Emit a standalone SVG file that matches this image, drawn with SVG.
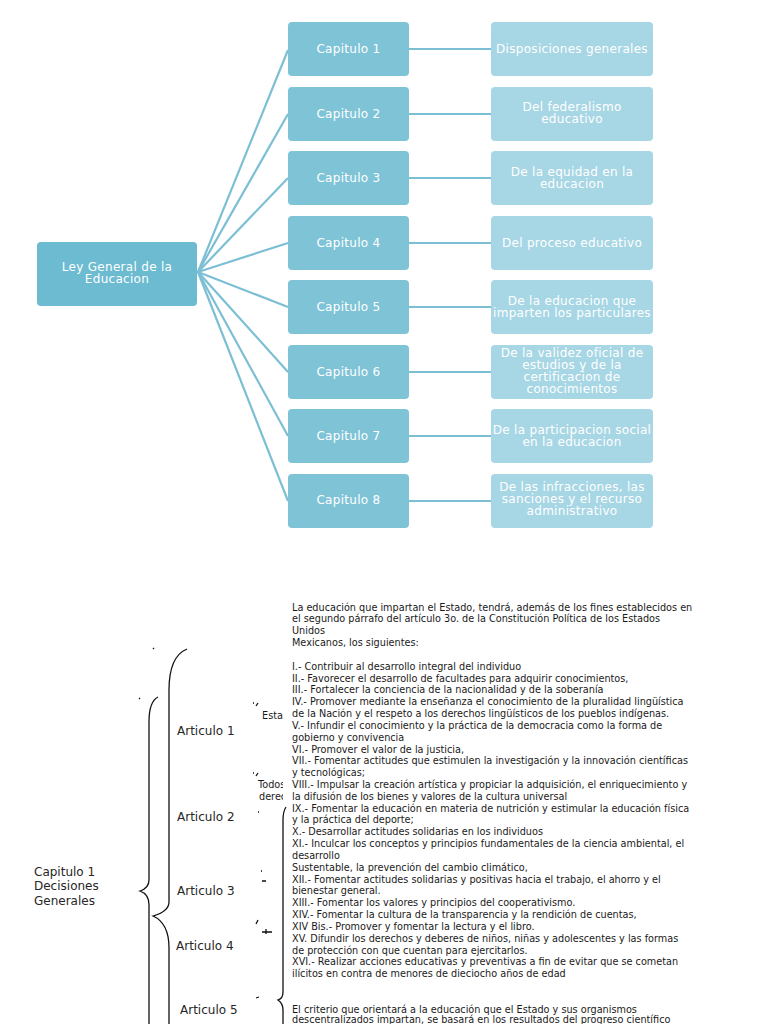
<svg xmlns="http://www.w3.org/2000/svg" width="768" height="1024" viewBox="0 0 768 1024">
<style>
.root{fill:#6cbbd1}
.cap{fill:#7fc3d7}
.desc{fill:#a7d6e5}
.nt{font-family:"DejaVu Sans",sans-serif;font-size:12px;fill:#ffffff;text-anchor:middle;letter-spacing:0.3px}
.conn{stroke:#7cbfd4;stroke-width:2.2;fill:none}
.body{font-family:"DejaVu Sans",sans-serif;font-size:9.7px;fill:#1a1a1a}
.lab{font-family:"DejaVu Sans",sans-serif;font-size:12px;fill:#262626}
.sm{font-family:"DejaVu Sans",sans-serif;font-size:9.7px;fill:#1a1a1a;text-anchor:end}
.br{stroke:#111;stroke-width:1.3;fill:none}
</style>
<defs>
<clipPath id="clipL"><rect x="0" y="600" width="283" height="424"/></clipPath>
</defs>
<rect width="768" height="1024" fill="#ffffff"/>
<g id="connectors">
<line class="conn" x1="198" y1="272" x2="288" y2="50"/>
<line class="conn" x1="198" y1="272" x2="288" y2="114"/>
<line class="conn" x1="198" y1="272" x2="288" y2="178"/>
<line class="conn" x1="198" y1="272" x2="288" y2="243"/>
<line class="conn" x1="198" y1="272" x2="288" y2="307"/>
<line class="conn" x1="198" y1="272" x2="288" y2="372"/>
<line class="conn" x1="198" y1="272" x2="288" y2="436"/>
<line class="conn" x1="198" y1="272" x2="288" y2="501"/>
<line class="conn" x1="409" y1="49" x2="491" y2="49"/>
<line class="conn" x1="409" y1="114" x2="491" y2="114"/>
<line class="conn" x1="409" y1="178" x2="491" y2="178"/>
<line class="conn" x1="409" y1="243" x2="491" y2="243"/>
<line class="conn" x1="409" y1="307" x2="491" y2="307"/>
<line class="conn" x1="409" y1="372" x2="491" y2="372"/>
<line class="conn" x1="409" y1="436" x2="491" y2="436"/>
<line class="conn" x1="409" y1="501" x2="491" y2="501"/>
</g>
<g id="root">
<rect class="root" x="37" y="242" width="160" height="64" rx="4"/>
<text class="nt" x="117" y="271">Ley General de la</text>
<text class="nt" x="117" y="283">Educacion</text>
</g>
<g id="cap1"><rect class="cap" x="288" y="22" width="121" height="54" rx="4"/><text class="nt" x="348.5" y="53">Capitulo 1</text></g>
<g id="cap2"><rect class="cap" x="288" y="87" width="121" height="54" rx="4"/><text class="nt" x="348.5" y="118">Capitulo 2</text></g>
<g id="cap3"><rect class="cap" x="288" y="151" width="121" height="54" rx="4"/><text class="nt" x="348.5" y="182">Capitulo 3</text></g>
<g id="cap4"><rect class="cap" x="288" y="216" width="121" height="54" rx="4"/><text class="nt" x="348.5" y="247">Capitulo 4</text></g>
<g id="cap5"><rect class="cap" x="288" y="280" width="121" height="54" rx="4"/><text class="nt" x="348.5" y="311">Capitulo 5</text></g>
<g id="cap6"><rect class="cap" x="288" y="345" width="121" height="54" rx="4"/><text class="nt" x="348.5" y="376">Capitulo 6</text></g>
<g id="cap7"><rect class="cap" x="288" y="409" width="121" height="54" rx="4"/><text class="nt" x="348.5" y="440">Capitulo 7</text></g>
<g id="cap8"><rect class="cap" x="288" y="474" width="121" height="54" rx="4"/><text class="nt" x="348.5" y="504">Capitulo 8</text></g>
<g id="desc1"><rect class="desc" x="491" y="22" width="162" height="54" rx="4"/><text class="nt" x="572" y="53">Disposiciones generales</text></g>
<g id="desc2"><rect class="desc" x="491" y="87" width="162" height="54" rx="4"/><text class="nt" x="572" y="111">Del federalismo</text><text class="nt" x="572" y="123">educativo</text></g>
<g id="desc3"><rect class="desc" x="491" y="151" width="162" height="54" rx="4"/><text class="nt" x="572" y="176">De la equidad en la</text><text class="nt" x="572" y="188">educacion</text></g>
<g id="desc4"><rect class="desc" x="491" y="216" width="162" height="54" rx="4"/><text class="nt" x="572" y="247">Del proceso educativo</text></g>
<g id="desc5"><rect class="desc" x="491" y="280" width="162" height="54" rx="4"/><text class="nt" x="572" y="305">De la educacion que</text><text class="nt" x="572" y="317">imparten los particulares</text></g>
<g id="desc6"><rect class="desc" x="491" y="345" width="162" height="54" rx="4"/><text class="nt" x="572" y="357">De la validez oficial de</text><text class="nt" x="572" y="369">estudios y de la</text><text class="nt" x="572" y="381">certificacion de</text><text class="nt" x="572" y="393">conocimientos</text></g>
<g id="desc7"><rect class="desc" x="491" y="409" width="162" height="54" rx="4"/><text class="nt" x="572" y="434">De la participacion social</text><text class="nt" x="572" y="446">en la educacion</text></g>
<g id="desc8"><rect class="desc" x="491" y="474" width="162" height="54" rx="4"/><text class="nt" x="572" y="491">De las infracciones, las</text><text class="nt" x="572" y="503">sanciones y el recurso</text><text class="nt" x="572" y="515">administrativo</text></g>

<g id="braces">
<path class="br" d="M158,697 C152,700 149,708 149,722 L149,880 C149,886 146,889 140,891 C146,893 149,897 149,905 L149,1024"/>
<path class="br" d="M187,649 C175,654 169,668 169,690 L169,902 C169,910 160,914 153,916 C162,920 169,930 169,948 L169,1024"/>
<path class="br" d="M286,807 C284,810 283,814 283,820 L283,992 C283,996 281,999 278,1000 C281,1002 283,1005 283,1010 L283,1024"/>
<path class="br" d="M153,648 l1,1 M139,698 l1,1 M253,703 l1,0 M256,706 l2,-3 M253,773 l1,0 M256,776 l2,-3 M258,812 l1,0 M261,871 l1,0 M262,881 l4,0 M256,924 l2,-4 M262,932 l10,0 M266,929 l0,5 M256,998 l3,-1"/>
</g>

<g id="labels">
<text class="lab" x="177" y="735">Articulo 1</text>
<text class="lab" x="177" y="821">Articulo 2</text>
<text class="lab" x="177" y="895">Articulo 3</text>
<text class="lab" x="176" y="950">Articulo 4</text>
<text class="lab" x="180" y="1014">Articulo 5</text>
<text class="lab" x="34" y="876">Capitulo 1</text>
<text class="lab" x="34" y="890">Decisiones</text>
<text class="lab" x="34" y="905">Generales</text>
<g clip-path="url(#clipL)">
<text class="sm" x="283" y="719">Esta</text>
<text class="body" x="258" y="788">Todos</text>
<text class="body" x="259" y="800">derec</text>
</g>
</g>

<g id="article-text">
<text class="body">
<tspan x="292" y="610.5">La educación que impartan el Estado, tendrá, además de los fines establecidos en</tspan>
<tspan x="292" y="622.3">el segundo párrafo del artículo 3o. de la Constitución Política de los Estados</tspan>
<tspan x="292" y="634.2">Unidos</tspan>
<tspan x="292" y="646.0">Mexicanos, los siguientes:</tspan>
<tspan x="292" y="669.7">I.- Contribuir al desarrollo integral del individuo</tspan>
<tspan x="292" y="681.5">II.- Favorecer el desarrollo de facultades para adquirir conocimientos,</tspan>
<tspan x="292" y="693.3">III.- Fortalecer la conciencia de la nacionalidad y de la soberanía</tspan>
<tspan x="292" y="705.1">IV.- Promover mediante la enseñanza el conocimiento de la pluralidad lingüística</tspan>
<tspan x="292" y="717.0">de la Nación y el respeto a los derechos lingüísticos de los pueblos indígenas.</tspan>
<tspan x="292" y="728.8">V.- Infundir el conocimiento y la práctica de la democracia como la forma de</tspan>
<tspan x="292" y="740.6">gobierno y convivencia</tspan>
<tspan x="292" y="752.5">VI.- Promover el valor de la justicia,</tspan>
<tspan x="292" y="764.3">VII.- Fomentar actitudes que estimulen la investigación y la innovación científicas</tspan>
<tspan x="292" y="776.1">y tecnológicas;</tspan>
<tspan x="292" y="788.0">VIII.- Impulsar la creación artística y propiciar la adquisición, el enriquecimiento y</tspan>
<tspan x="292" y="799.8">la difusión de los bienes y valores de la cultura universal</tspan>
<tspan x="292" y="811.6">IX.- Fomentar la educación en materia de nutrición y estimular la educación física</tspan>
<tspan x="292" y="823.4">y la práctica del deporte;</tspan>
<tspan x="292" y="835.3">X.- Desarrollar actitudes solidarias en los individuos</tspan>
<tspan x="292" y="847.1">XI.- Inculcar los conceptos y principios fundamentales de la ciencia ambiental, el</tspan>
<tspan x="292" y="858.9">desarrollo</tspan>
<tspan x="292" y="870.8">Sustentable, la prevención del cambio climático,</tspan>
<tspan x="292" y="882.6">XII.- Fomentar actitudes solidarias y positivas hacia el trabajo, el ahorro y el</tspan>
<tspan x="292" y="894.4">bienestar general.</tspan>
<tspan x="292" y="906.2">XIII.- Fomentar los valores y principios del cooperativismo.</tspan>
<tspan x="292" y="918.1">XIV.- Fomentar la cultura de la transparencia y la rendición de cuentas,</tspan>
<tspan x="292" y="929.9">XIV Bis.- Promover y fomentar la lectura y el libro.</tspan>
<tspan x="292" y="941.7">XV. Difundir los derechos y deberes de niños, niñas y adolescentes y las formas</tspan>
<tspan x="292" y="953.6">de protección con que cuentan para ejercitarlos.</tspan>
<tspan x="292" y="965.4">XVI.- Realizar acciones educativas y preventivas a fin de evitar que se cometan</tspan>
<tspan x="292" y="977.2">ilícitos en contra de menores de dieciocho años de edad</tspan>
<tspan x="292" y="1012.7">El criterio que orientará a la educación que el Estado y sus organismos</tspan>
<tspan x="292" y="1022.5">descentralizados impartan, se basará en los resultados del progreso científico</tspan>
</text>
</g>
</svg>
